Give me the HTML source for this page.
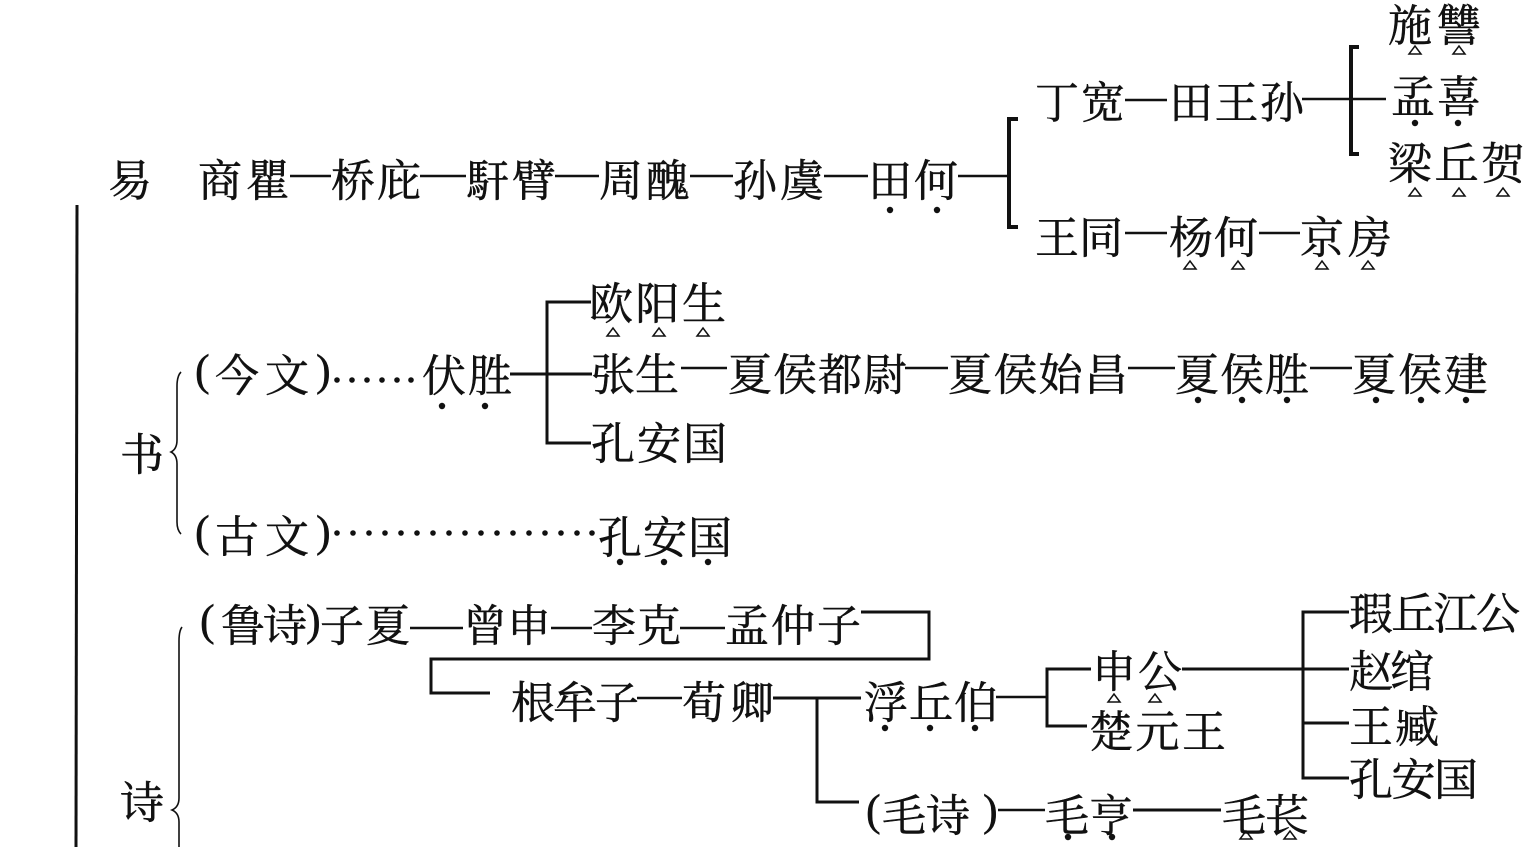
<!DOCTYPE html>
<html>
<head>
<meta charset="utf-8">
<style>
  html,body{margin:0;padding:0;background:#fff;}
  body{width:1536px;height:847px;overflow:hidden;}
  svg{display:block;}
  text{font-family:"Liberation Serif","Noto Serif CJK SC",serif;font-size:44px;fill:#111;stroke:#111;stroke-width:0.5;}
  .d{stroke:#111;stroke-width:2.5;fill:none;}
  .c{stroke:#111;stroke-width:3;fill:none;}
  .b{stroke:#111;stroke-width:4;fill:none;}
  .br{stroke:#111;stroke-width:1.6;fill:none;}
  .t{stroke:#111;stroke-width:1.5;fill:none;}
  .p{fill:#111;}
</style>
</head>
<body>
<svg width="1536" height="847" viewBox="0 0 1536 847" xmlns="http://www.w3.org/2000/svg">
  <!-- big vertical line -->
  <line x1="77" y1="205" x2="76" y2="847" stroke="#111" stroke-width="3"/>

  <!-- ===== 易 ===== -->
  <text x="108" y="196">易</text>
  <text x="198" y="196" textLength="92" lengthAdjust="spacing">商瞿</text>
  <text x="331" y="196" textLength="90" lengthAdjust="spacing">桥庇</text>
  <text x="466" y="196" textLength="90" lengthAdjust="spacing">馯臂</text>
  <text x="599" y="196" textLength="91" lengthAdjust="spacing">周醜</text>
  <text x="733" y="196" textLength="91" lengthAdjust="spacing">孙虞</text>
  <text x="868" y="196" textLength="90" lengthAdjust="spacing">田何</text>
  <line class="d" x1="290" y1="176" x2="331" y2="176"/>
  <line class="d" x1="420" y1="176" x2="466" y2="176"/>
  <line class="d" x1="555" y1="176" x2="599" y2="176"/>
  <line class="d" x1="690" y1="176" x2="733" y2="176"/>
  <line class="d" x1="824" y1="176" x2="868" y2="176"/>
  <line class="d" x1="958" y1="176" x2="1007" y2="176"/>
  <circle class="p" cx="890" cy="210" r="3.2"/>
  <circle class="p" cx="937" cy="210" r="3.2"/>
  <!-- bracket -->
  <path class="b" d="M1018 119 H1009 V227 H1018"/>

  <!-- upper branch -->
  <text x="1035" y="118" textLength="90" lengthAdjust="spacing">丁宽</text>
  <line class="d" x1="1125" y1="100" x2="1167" y2="100"/>
  <text x="1169" y="118" textLength="135" lengthAdjust="spacing">田王孙</text>
  <line class="d" x1="1302" y1="99" x2="1386" y2="99"/>
  <path class="b" d="M1359 47 H1351 V154 H1359"/>
  <text x="1388" y="41" textLength="93" lengthAdjust="spacing">施讐</text>
  <polygon class="t" points="1409,54 1421,54 1415,46"/>
  <polygon class="t" points="1453,54 1465,54 1459,46"/>
  <text x="1391" y="112" textLength="90" lengthAdjust="spacing">孟喜</text>
  <circle class="p" cx="1415" cy="123" r="3.2"/>
  <circle class="p" cx="1458" cy="123" r="3.2"/>
  <text x="1388" y="179" textLength="137" lengthAdjust="spacing">梁丘贺</text>
  <polygon class="t" points="1409,196 1421,196 1415,188"/>
  <polygon class="t" points="1453,196 1465,196 1459,188"/>
  <polygon class="t" points="1497,196 1509,196 1503,188"/>

  <!-- lower branch -->
  <text x="1035" y="253" textLength="88" lengthAdjust="spacing">王同</text>
  <line class="d" x1="1125" y1="233" x2="1167" y2="233"/>
  <text x="1169" y="253" textLength="89" lengthAdjust="spacing">杨何</text>
  <line class="d" x1="1259" y1="233" x2="1300" y2="233"/>
  <text x="1300" y="253" textLength="92" lengthAdjust="spacing">京房</text>
  <polygon class="t" points="1184,269 1196,269 1190,261"/>
  <polygon class="t" points="1232,269 1244,269 1238,261"/>
  <polygon class="t" points="1316,269 1328,269 1322,261"/>
  <polygon class="t" points="1362,269 1374,269 1368,261"/>

  <!-- ===== 书 ===== -->
  <text x="120" y="470">书</text>
  <path class="br" d="M181 372 Q177 376 177 386 L177 440 Q177 449 171 452 Q177 455 177 464 L177 522 Q177 530 181 534"/>

  <text x="195" y="385">(</text>
  <text x="215" y="391" textLength="94" lengthAdjust="spacing">今文</text>
  <text x="316" y="385">)</text>
  <g class="p">
    <circle cx="337" cy="380" r="2.8"/>
    <circle cx="352" cy="380" r="2.8"/>
    <circle cx="367" cy="380" r="2.8"/>
    <circle cx="382" cy="380" r="2.8"/>
    <circle cx="397" cy="380" r="2.8"/>
    <circle cx="411" cy="380" r="2.8"/>
  </g>
  <text x="422" y="391" textLength="90" lengthAdjust="spacing">伏胜</text>
  <circle class="p" cx="442" cy="406" r="3.2"/>
  <circle class="p" cx="485" cy="406" r="3.2"/>
  <line class="c" x1="510" y1="374" x2="592" y2="374"/>
  <path class="c" d="M591 302 H547 V443 H591"/>

  <text x="589" y="319" textLength="137" lengthAdjust="spacing">欧阳生</text>
  <polygon class="t" points="607,336 619,336 613,328"/>
  <polygon class="t" points="653,336 665,336 659,328"/>
  <polygon class="t" points="697,336 709,336 703,328"/>

  <text x="591" y="390" textLength="88" lengthAdjust="spacing">张生</text>
  <line class="d" x1="681" y1="368" x2="727" y2="368"/>
  <text x="728" y="390" textLength="179" lengthAdjust="spacing">夏侯都尉</text>
  <line class="d" x1="905" y1="368" x2="948" y2="368"/>
  <text x="948" y="390" textLength="180" lengthAdjust="spacing">夏侯始昌</text>
  <line class="d" x1="1128" y1="368" x2="1175" y2="368"/>
  <text x="1175" y="390" textLength="134" lengthAdjust="spacing">夏侯胜</text>
  <line class="d" x1="1310" y1="368" x2="1352" y2="368"/>
  <text x="1352" y="390" textLength="136" lengthAdjust="spacing">夏侯建</text>
  <circle class="p" cx="1198" cy="400" r="3.2"/>
  <circle class="p" cx="1242" cy="400" r="3.2"/>
  <circle class="p" cx="1287" cy="400" r="3.2"/>
  <circle class="p" cx="1376" cy="400" r="3.2"/>
  <circle class="p" cx="1421" cy="400" r="3.2"/>
  <circle class="p" cx="1466" cy="400" r="3.2"/>

  <text x="591" y="459" textLength="136" lengthAdjust="spacing">孔安国</text>

  <text x="195" y="546">(</text>
  <text x="215" y="552" textLength="94" lengthAdjust="spacing">古文</text>
  <text x="316" y="546">)</text>
  <g class="p">
    <circle cx="337" cy="533" r="2.8"/><circle cx="353" cy="533" r="2.8"/><circle cx="369" cy="533" r="2.8"/>
    <circle cx="385" cy="533" r="2.8"/><circle cx="401" cy="533" r="2.8"/><circle cx="417" cy="533" r="2.8"/>
    <circle cx="433" cy="533" r="2.8"/><circle cx="449" cy="533" r="2.8"/><circle cx="465" cy="533" r="2.8"/>
    <circle cx="481" cy="533" r="2.8"/><circle cx="497" cy="533" r="2.8"/><circle cx="513" cy="533" r="2.8"/>
    <circle cx="529" cy="533" r="2.8"/><circle cx="545" cy="533" r="2.8"/><circle cx="561" cy="533" r="2.8"/>
    <circle cx="577" cy="533" r="2.8"/><circle cx="592" cy="533" r="2.8"/>
  </g>
  <text x="598" y="553" textLength="134" lengthAdjust="spacing">孔安国</text>
  <circle class="p" cx="620" cy="562" r="3.2"/>
  <circle class="p" cx="664" cy="562" r="3.2"/>
  <circle class="p" cx="708" cy="562" r="3.2"/>

  <!-- ===== 诗 ===== -->
  <text x="120" y="818">诗</text>
  <path class="br" d="M182 627 Q179 631 179 641 L179 798 Q179 807 172 810 Q179 813 179 822 L179 847"/>

  <text x="200" y="635">(</text>
  <text x="221" y="641" textLength="86" lengthAdjust="spacing">鲁诗</text>
  <text x="306" y="635">)</text>
  <text x="320" y="641" textLength="90" lengthAdjust="spacing">子夏</text>
  <line class="d" x1="410" y1="628" x2="463" y2="628"/>
  <text x="463" y="641" textLength="88" lengthAdjust="spacing">曾申</text>
  <line class="d" x1="551" y1="628" x2="592" y2="628"/>
  <text x="592" y="641" textLength="89" lengthAdjust="spacing">李克</text>
  <line class="d" x1="680" y1="628" x2="725" y2="628"/>
  <text x="725" y="641" textLength="136" lengthAdjust="spacing">孟仲子</text>
  <path class="c" d="M861 612 H929 V659 H431 V693 H490"/>

  <text x="511" y="718" textLength="128" lengthAdjust="spacing">根牟子</text>
  <line class="d" x1="637" y1="698" x2="682" y2="698"/>
  <text x="682" y="718" textLength="92" lengthAdjust="spacing">荀卿</text>
  <line class="c" x1="773" y1="698" x2="861" y2="698"/>
  <path class="c" d="M817 698 V802 H859"/>

  <text x="864" y="718" textLength="134" lengthAdjust="spacing">浮丘伯</text>
  <circle class="p" cx="885" cy="728" r="3.2"/>
  <circle class="p" cx="930" cy="728" r="3.2"/>
  <circle class="p" cx="975" cy="728" r="3.2"/>
  <line class="d" x1="996" y1="697" x2="1047" y2="697"/>
  <path class="c" d="M1091 669 H1047 V726 H1087"/>

  <text x="1092" y="687" textLength="90" lengthAdjust="spacing">申公</text>
  <polygon class="t" points="1108,702 1120,702 1114,694"/>
  <polygon class="t" points="1149,702 1161,702 1155,694"/>
  <line class="c" x1="1182" y1="669" x2="1349" y2="669"/>
  <text x="1089" y="747" textLength="137" lengthAdjust="spacing">楚元王</text>

  <path class="c" d="M1349 612 H1303 V778 H1349"/>
  <line class="c" x1="1303" y1="723" x2="1349" y2="723"/>
  <text x="1349" y="629" textLength="171" lengthAdjust="spacing">瑕丘江公</text>
  <text x="1349" y="687" textLength="85" lengthAdjust="spacing">赵绾</text>
  <text x="1349" y="742" textLength="90" lengthAdjust="spacing">王臧</text>
  <text x="1349" y="795" textLength="129" lengthAdjust="spacing">孔安国</text>

  <text x="866" y="825">(</text>
  <text x="882" y="831" textLength="88" lengthAdjust="spacing">毛诗</text>
  <text x="983" y="825">)</text>
  <line class="d" x1="998" y1="810" x2="1045" y2="810"/>
  <text x="1045" y="831" textLength="88" lengthAdjust="spacing">毛亨</text>
  <circle class="p" cx="1068" cy="837" r="3.2"/>
  <circle class="p" cx="1112" cy="837" r="3.2"/>
  <line class="c" x1="1133" y1="810" x2="1221" y2="810"/>
  <text x="1222" y="831" textLength="87" lengthAdjust="spacing">毛苌</text>
  <polygon class="t" points="1240,839 1252,839 1246,831"/>
  <polygon class="t" points="1284,839 1296,839 1290,831"/>
</svg>
</body>
</html>
